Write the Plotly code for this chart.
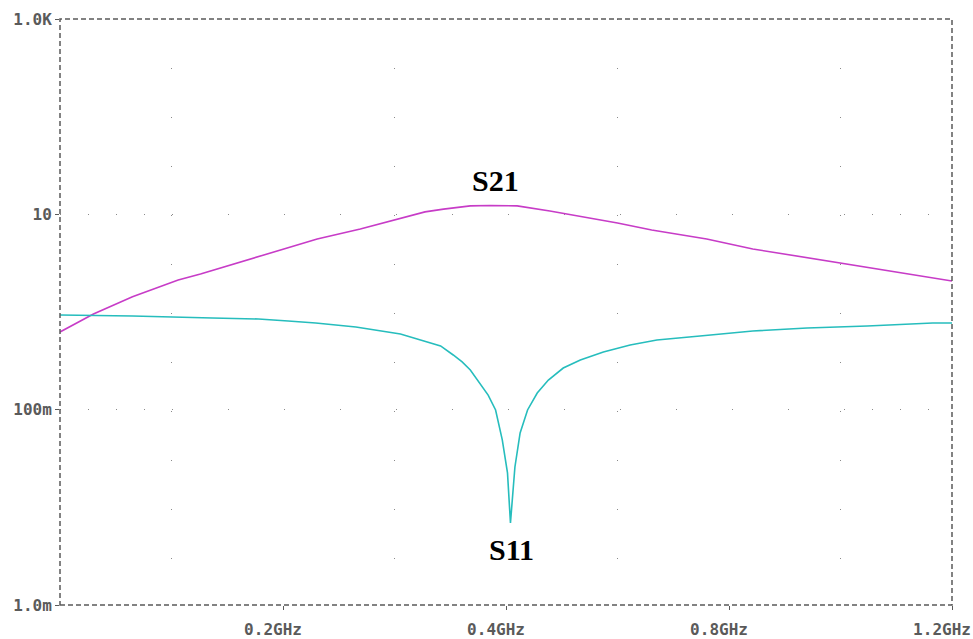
import plotly.graph_objects as go

# ---- data (x in axis units 0..1.2) ----
s21_x = [0.0, 0.045, 0.0975, 0.159, 0.189, 0.270, 0.346, 0.404, 0.451, 0.491, 0.516, 0.552,
         0.579, 0.615, 0.659, 0.707, 0.750, 0.796, 0.870, 0.932, 1.049, 1.2]
s21_y = [0.624, 0.955, 1.43, 2.13, 2.45, 3.74, 5.59, 7.08, 8.75, 10.6, 11.3, 12.2,
         12.3, 12.2, 10.8, 9.39, 8.15, 6.92, 5.59, 4.42, 3.18, 2.08]

s11_x = [0.0, 0.0975, 0.205, 0.267, 0.307, 0.344, 0.398, 0.431, 0.458, 0.485, 0.512, 0.529,
         0.541, 0.552, 0.565, 0.576, 0.586, 0.591, 0.595, 0.602, 0.606, 0.612, 0.619, 0.629,
         0.637, 0.642, 0.657, 0.677, 0.700, 0.716, 0.731, 0.767, 0.803, 0.861, 0.932, 1.005,
         1.086, 1.174, 1.2]
s11_y = [0.931, 0.910, 0.869, 0.848, 0.809, 0.771, 0.702, 0.639, 0.596, 0.517, 0.449, 0.363,
         0.308, 0.255, 0.1875, 0.141, 0.0993, 0.0697, 0.0490, 0.0225, 0.00692, 0.0259, 0.0577, 0.0993,
         0.1256, 0.148, 0.201, 0.267, 0.323, 0.355, 0.390, 0.459, 0.517, 0.568, 0.639, 0.686,
         0.719, 0.771, 0.771]

x_tickvals = [0.3, 0.6, 0.9, 1.2]
x_ticktext = ["0.2GHz", "0.4GHz", "0.8GHz", "1.2GHz"]
x_gridvals = [0.15, 0.45, 0.75, 1.05]
y_tickvals = [1e-3, 1e-1, 1e1, 1e3]
y_ticktext = ["1.0m", "100m", "10", "1.0K"]

S21_COLOR = "#C73CC7"
S11_COLOR = "#26BDBD"
AXIS_COLOR = "#5a5a5a"
GRID_COLOR = "#8a8a8a"
tick_font = dict(family="DejaVu Sans Mono", size=16, color=AXIS_COLOR, weight="bold")
label_font = dict(family="Liberation Serif", size=30, color="black", weight="bold")

fig = go.Figure()
fig.add_trace(go.Scatter(x=s21_x, y=s21_y, mode="lines", name="S21",
                         line=dict(color=S21_COLOR, width=1.6)))
fig.add_trace(go.Scatter(x=s11_x, y=s11_y, mode="lines", name="S11",
                         line=dict(color=S11_COLOR, width=1.6)))

hdash = ",".join(["1px,27px"] * 4 + ["1px,55px"] * 12 + ["1px,27px"] * 3 + ["1px,200px"])

fig.update_layout(
    width=973, height=639,
    margin=dict(l=60, r=21, t=19, b=34, autoexpand=False),
    paper_bgcolor="white", plot_bgcolor="white",
    showlegend=False,
    xaxis=dict(
        range=[0, 1.2], tickvals=x_tickvals, ticktext=x_ticktext,
        ticks="outside", ticklen=4, tickcolor=AXIS_COLOR, tickwidth=1,
        tickfont=tick_font, ticklabelshift=-10, ticklabelstandoff=6,
        showgrid=False, zeroline=False, showline=False, automargin=False,
        minor=dict(tickvals=x_gridvals, showgrid=True, gridcolor=GRID_COLOR,
                   griddash="1px,48px", gridwidth=1.2, ticks=""),
    ),
    yaxis=dict(
        type="log", range=[-3, 3], tickvals=y_tickvals, ticktext=y_ticktext,
        ticks="outside", ticklen=4, tickcolor=AXIS_COLOR, tickwidth=1,
        tickfont=tick_font, automargin=False,
        showgrid=True, gridcolor=GRID_COLOR, griddash=hdash, gridwidth=1.2,
        zeroline=False, showline=False,
    ),
    shapes=[dict(type="rect", xref="paper", yref="paper", x0=0, x1=1, y0=0, y1=1,
                 line=dict(color=AXIS_COLOR, width=1.5, dash="5px,3px"),
                 fillcolor="rgba(0,0,0,0)", layer="above")],
    annotations=[
        dict(text="S21", xref="paper", yref="paper", x=0.488, y=0.725, showarrow=False,
             xanchor="center", yanchor="middle", font=label_font),
        dict(text="S11", xref="paper", yref="paper", x=0.506, y=0.094, showarrow=False,
             xanchor="center", yanchor="middle", font=label_font),
    ],
)

fig.write_html("out.html", config={"displayModeBar": False},
               post_script="document.body.style.margin='0';")
